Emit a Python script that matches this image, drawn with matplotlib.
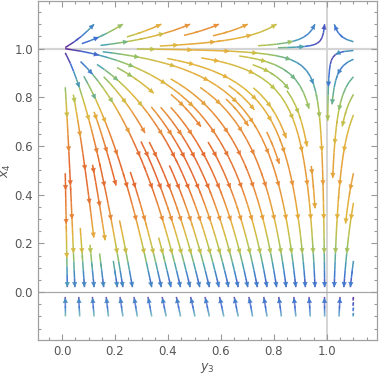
import numpy as np
import matplotlib.pyplot as plt
from matplotlib.colors import LinearSegmentedColormap, Normalize
from matplotlib.patches import FancyArrowPatch

# field: y3' = RATE_Y3*y3*(1-y3)*x4 , x4' = -x4*(1-x4)*(X4_BASE - X4_SLOPE*y3)
RATE_Y3 = 0.9
X4_BASE = 1.15
X4_SLOPE = 0.2
y3_range = [0.012, 1.1]
x4_upper = [0.02, 1.1]     # streams stop short of the x4 = 0 line
x4_lower = [-0.1, -0.02]
x_ticks = [0.0, 0.2, 0.4, 0.6, 0.8, 1.0]
y_ticks = [0.0, 0.2, 0.4, 0.6, 0.8, 1.0]
grid_x = [1.0]
grid_y = [0.0, 1.0]

# speed -> colour, warm end compressed like the reference
speed_stops = [0.0, 0.23, 0.38, 0.50, 0.60, 0.72, 0.85, 1.0]
speed_colors = ['#6a1f8c', '#3f6fd6', '#4aa3b2', '#8dbf6a', '#bcc24c', '#e2b53c', '#e8903a', '#e25a2c']
cmap = LinearSegmentedColormap.from_list('speed', list(zip(speed_stops, speed_colors)))
norm = Normalize(0, 0.30)


def field(x4_range, ny):
    Y3, X4 = np.meshgrid(np.linspace(*y3_range, 120), np.linspace(*x4_range, ny))
    U = RATE_Y3 * Y3 * (1 - Y3) * X4
    V = -X4 * (1 - X4) * (X4_BASE - X4_SLOPE * Y3)
    return Y3, X4, U, V, np.hypot(U, V)


def add_arrows(ax, sp, step=34.0):
    # Mathematica-style: arrowheads at the tip of each stream and every `step` px back
    segs = sp.lines.get_segments()
    vals = np.asarray(sp.lines.get_array())
    trajs, cur = [], [0]
    for i in range(1, len(segs)):
        if np.allclose(segs[i][0], segs[i - 1][1]):
            cur.append(i)
        else:
            trajs.append(cur)
            cur = [i]
    trajs.append(cur)
    for tr in trajs:
        pts = np.array([segs[i][0] for i in tr] + [segs[tr[-1]][1]])
        pix = ax.transData.transform(pts)
        d = np.hypot(*np.diff(pix, axis=0).T)
        s = np.concatenate([[0], np.cumsum(d)])
        if s[-1] < 8:
            continue
        for m in np.arange(s[-1] - 1.0, 6.0, -step):
            k = int(np.clip(np.searchsorted(s, m) - 1, 0, len(tr) - 1))
            kc = int(np.clip(np.searchsorted(s, m - 12) - 1, 0, len(tr) - 1))
            p0, p1 = pts[k], pts[k + 1]
            if np.allclose(p0, p1):
                continue
            c = cmap(norm(vals[tr[kc]]))
            ax.add_patch(FancyArrowPatch(p0, p1, arrowstyle='-|>', mutation_scale=8,
                                         color=c, lw=0.3, shrinkA=0, shrinkB=0, zorder=3))


fig = plt.figure(figsize=(3.79, 3.78), dpi=100)
ax = fig.add_axes([0.0995, 0.1005, 0.896, 0.898])
ax.set_xlim(-0.092, 1.19)
ax.set_ylim(-0.197, 1.197)

ax.axvline(grid_x[0], color='#d4d4d4', lw=1.4, zorder=0)
ax.axhline(grid_y[1], color='#d4d4d4', lw=1.6, zorder=0)
ax.axhline(grid_y[0], color='#a8a8a8', lw=0.9, zorder=0)

Y3, X4, U, V, speed = field(x4_upper, 130)
sp = ax.streamplot(Y3, X4, U, V, color=speed, cmap=cmap, norm=norm,
                   density=1.05, linewidth=1.1, arrowstyle='-', arrowsize=0.1)
add_arrows(ax, sp)

Y3, X4, U, V, speed = field(x4_lower, 12)
sp = ax.streamplot(Y3, X4, U, V, color=speed, cmap=cmap, norm=norm,
                   density=(0.7, 0.4), linewidth=1.1, arrowstyle='-', arrowsize=0.1)
add_arrows(ax, sp)

ax.set_xticks(x_ticks)
ax.set_yticks(y_ticks)
ax.set_xticks(np.arange(-0.05, 1.19, 0.05), minor=True)
ax.set_yticks(np.arange(-0.15, 1.19, 0.05), minor=True)
ax.tick_params(which='both', direction='in', top=True, right=True, color='#999999',
               labelsize=8.5, labelcolor='#555555', width=0.8)
ax.tick_params(which='major', length=4.5)
ax.tick_params(which='minor', length=2.5)
for s in ax.spines.values():
    s.set_color('#a0a0a0')
    s.set_linewidth(0.9)

ax.set_xlabel(r'$y_3$', color='#555555', fontsize=9, labelpad=2)
ax.set_ylabel(r'$x_4$', color='#555555', fontsize=9, labelpad=1)

fig.savefig('out.png', dpi=100)
